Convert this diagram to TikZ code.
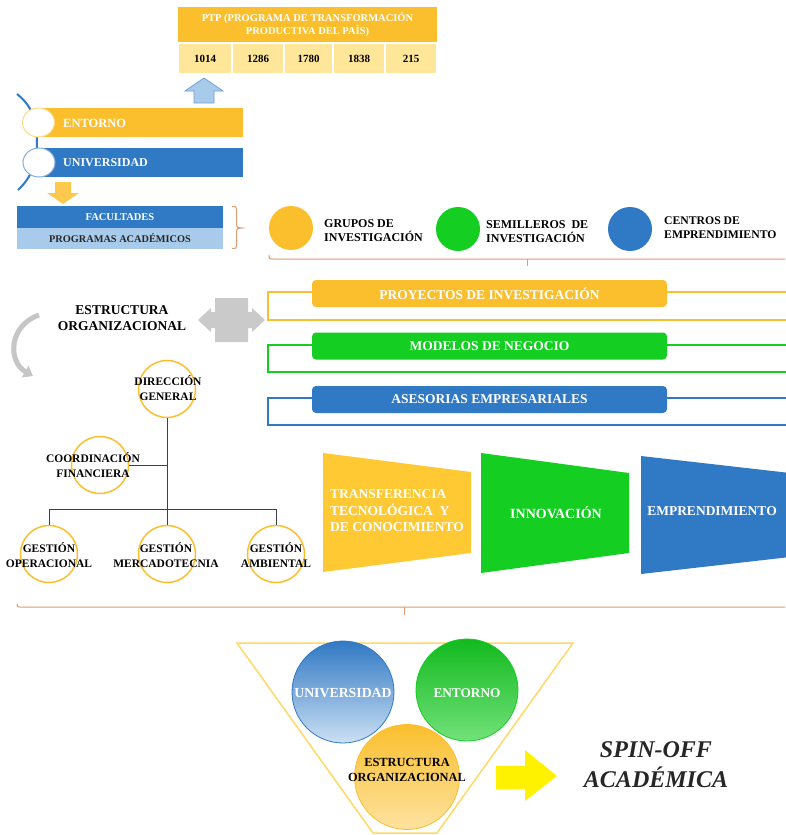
\documentclass[tikz,border=0pt]{standalone}
\usepackage{fontspec}
\setmainfont{Liberation Serif}
\usetikzlibrary{arrows.meta,shapes.geometric}
\definecolor{cyel}{HTML}{FBBF2D}
\definecolor{clyel}{HTML}{FFE699}
\definecolor{cblue}{HTML}{3079C4}
\definecolor{clblue}{HTML}{A9CBEB}
\definecolor{cgreen}{HTML}{14CE22}
\definecolor{cbrace}{HTML}{DE9A70}
\definecolor{ctrap}{HTML}{FFC933}
\definecolor{cgray}{HTML}{CACACA}
\definecolor{cline}{HTML}{404040}
\definecolor{cfun}{HTML}{FFD966}
\newcommand{\myfs}[2]{\fontsize{#1}{#2}\selectfont}
\begin{document}
\begin{tikzpicture}[x=1pt,y=-1pt,
  every node/.style={font=\bfseries, inner sep=0pt},
  cell/.style={fill=clyel, draw=white, line width=1.2pt, minimum height=31pt, font=\bfseries\myfs{11}{13}},
  barbox/.style={minimum width=203pt, minimum height=29pt},
  barcirc/.style={ellipse, fill=white, line width=1pt, minimum width=32pt, minimum height=29pt},
  dotc/.style={circle, minimum size=44pt},
  lbl/.style={anchor=west, align=left, font=\bfseries\myfs{12}{14}},
  pill/.style={rounded corners=4pt, minimum width=355pt, minimum height=27pt, text=white, font=\bfseries\myfs{13.5}{15}},
  outl/.style={line width=1.5pt},
  orgc/.style={circle, draw=cyel, line width=1.5pt, fill=white, minimum size=57pt},
  orgt/.style={align=center, font=\bfseries\myfs{11.5}{15}},
  link/.style={draw=cline, line width=1pt},
  brc/.style={draw=cbrace, line width=1pt},
  ttxt/.style={text=white, font=\bfseries\myfs{13.5}{16.5}},
  bigc/.style={circle, minimum size=102pt, line width=0.8pt}
]
\useasboundingbox[fill=white] (0,0) rectangle (785,835);

% PTP table
\node[fill=cyel, minimum width=259pt, minimum height=36pt, text=white, align=center, font=\bfseries\myfs{10.5}{13}] (ptp) at (307.5,25) {PTP (PROGRAMA DE TRANSFORMACIÓN\\PRODUCTIVA DEL PAÍS)};
\node[cell, minimum width=54pt] (c1) at (205,58.5) {1014};
\node[cell, minimum width=52pt] (c2) at (258,58.5) {1286};
\node[cell, minimum width=49pt] (c3) at (308.5,58.5) {1780};
\node[cell, minimum width=52pt] (c4) at (359,58.5) {1838};
\node[cell, minimum width=52pt] (c5) at (411,58.5) {215};

% up arrow
\draw[fill=clblue, draw=cblue!70, line width=0.8pt] (185,91) -- (204,78) -- (223,91) -- (214,91) -- (214,103) -- (194,103) -- (194,91) -- cycle;

% vertical circle list
\draw[cblue, line width=2pt] (17,94) .. controls (32,106) and (37,120) .. (37,140) .. controls (37,162) and (32,177) .. (18,190);
\node[barbox, fill=cyel] (entb) at (141.5,122.5) {};
\node[barbox, fill=cblue] (unib) at (141.5,162.5) {};
\node[barcirc, draw=cyel!60] (entc) at (38.5,122.5) {};
\node[barcirc, draw=cblue!60] (unic) at (39,162.5) {};
\node[anchor=west, text=white, font=\bfseries\myfs{12.5}{14}] (entt) at (63,123) {ENTORNO};
\node[anchor=west, text=white, font=\bfseries\myfs{12}{14}] (unit) at (63,163) {UNIVERSIDAD};

% down arrow
\fill[cyel!85] (55,182) -- (71,182) -- (71,193) -- (79,193) -- (63,204) -- (47,193) -- (55,193) -- cycle;

% faculties
\node[fill=cblue, minimum width=206pt, minimum height=22pt, text=white, font=\bfseries\myfs{10.5}{12}] (fac) at (120,217) {FACULTADES};
\node[fill=clblue, minimum width=206pt, minimum height=21pt, text=black!85, font=\bfseries\myfs{10.3}{12}] (prog) at (120,238.5) {PROGRAMAS ACADÉMICOS};

% brace
\draw[brc] (232,206.5) .. controls (236,206.5) .. (236.5,210) -- (236.5,224) .. controls (237,227.5) .. (242,228) .. controls (237,228.5) .. (236.5,232) -- (236.5,245) .. controls (236,248.5) .. (232,248.5);

% three groups
\node[dotc, fill=cyel] (grp) at (291,228) {};
\node[dotc, fill=cgreen] (sem) at (458,229) {};
\node[dotc, fill=cblue] (cen) at (630,229) {};
\node[lbl] (grpt) at (324,231) {GRUPOS DE\\INVESTIGACIÓN};
\node[lbl] (semt) at (486,232) {SEMILLEROS~ DE\\INVESTIGACIÓN};
\node[lbl, font=\bfseries\myfs{11.7}{14}] (cent) at (664,228) {CENTROS DE\\EMPRENDIMIENTO};

% horizontal brace
\draw[brc] (269,255) .. controls (269,259) .. (273,259) -- (785,259);
\draw[brc] (527,259) -- (527,266);
\coordinate (bt) at (527,266);

% pills
\draw[cyel, outl] (268,292) rectangle (790,320);
\draw[cgreen, outl] (268,345) rectangle (790,372);
\draw[cblue, outl] (268,398) rectangle (790,425);
\node[pill, fill=cyel] (proj) at (489.5,293.5) {PROYECTOS DE INVESTIGACIÓN};
\node[pill, fill=cgreen] (mod) at (489.5,346) {MODELOS DE NEGOCIO};
\node[pill, fill=cblue] (ase) at (489.5,399.5) {ASESORIAS EMPRESARIALES};

% estructura organizacional
\node[align=center, font=\bfseries\myfs{13.5}{16}] (eo) at (122,318) {ESTRUCTURA\\ORGANIZACIONAL};
\fill[cgray] (198,320) -- (211,308) -- (211,312) -- (215,312) -- (215,298) -- (248,298) -- (248,312) -- (252,312) -- (252,308) -- (265,320) -- (252,332) -- (252,328) -- (248,328) -- (248,342) -- (215,342) -- (215,328) -- (211,328) -- (211,332) -- cycle;
\draw[gray!45, line width=5pt, -{Triangle[length=9pt,width=13pt]}] (39,315) .. controls (8,326) and (8,362) .. (33,376);

% org chart
\node[orgc] (dg) at (167,389) {};
\node[orgc] (cf) at (100,465) {};
\node[orgc] (go) at (49,554) {};
\node[orgc] (gm) at (167,554) {};
\node[orgc] (ga) at (276,554) {};
\draw[link] (dg.south) -- (gm.north);
\draw[link] (cf.east) -- (cf.east -| dg.south);
\draw[link] (go.north) -- ++(0,-15) -| (ga.north);
\node[orgt] (dgt) at (168,388) {DIRECCIÓN\\GENERAL};
\node[orgt] (cft) at (93,465) {COORDINACIÓN\\FINANCIERA};
\node[orgt] (got) at (49,555) {GESTIÓN\\OPERACIONAL};
\node[orgt] (gmt) at (166,555) {GESTIÓN\\MERCADOTECNIA};
\node[orgt] (gat) at (276,555) {GESTIÓN\\AMBIENTAL};

% trapezoids
\fill[ctrap] (323,453) -- (471,472) -- (471,553) -- (323,572) -- cycle;
\fill[cgreen] (481,453) -- (629,473) -- (629,553) -- (481,573) -- cycle;
\fill[cblue] (641,456) -- (790,473) -- (790,557) -- (641,574) -- cycle;
\node[ttxt, anchor=west, align=left] (tt) at (330,511) {TRANSFERENCIA\\TECNOLÓGICA~ Y\\DE CONOCIMIENTO};
\node[ttxt, font=\bfseries\myfs{14}{16}] (inn) at (556,513) {INNOVACIÓN};
\node[ttxt] (emp) at (712,511) {EMPRENDIMIENTO};

% bottom brace
\draw[brc] (17,604) .. controls (17,607) .. (20,607) -- (785,607);
\draw[brc] (404,607) -- (404,615);

% funnel
\draw[cfun, line width=1.5pt] (237,643) -- (573,643) -- (437,833) -- (373,833) -- cycle;
\node[bigc, top color=cblue, bottom color=clblue!60, draw=cblue] (u2) at (343,692) {};
\node[bigc, top color=cgreen!90!black, bottom color=cgreen!60, draw=cgreen] (e2) at (467,690) {};
\node[bigc, minimum size=105pt, top color=cyel, bottom color=cyel!45, draw=cyel] (o2) at (407,777) {};
\node[text=white, font=\bfseries\myfs{13.8}{16}] (u2t) at (343,693) {UNIVERSIDAD};
\node[text=white, font=\bfseries\myfs{13.3}{16}] (e2t) at (467,693) {ENTORNO};
\node[align=center, font=\bfseries\myfs{12.4}{15}] (o2t) at (407,770) {ESTRUCTURA\\ORGANIZACIONAL};

% yellow arrow + result
\fill[yellow] (496,766) -- (525,766) -- (525,750) -- (557,776) -- (525,801) -- (525,789) -- (496,789) -- cycle;
\node[align=center, text=black!85, font=\bfseries\itshape\myfs{24}{30}] (spin) at (656,765) {SPIN-OFF\\ACADÉMICA};
\end{tikzpicture}
\end{document}
